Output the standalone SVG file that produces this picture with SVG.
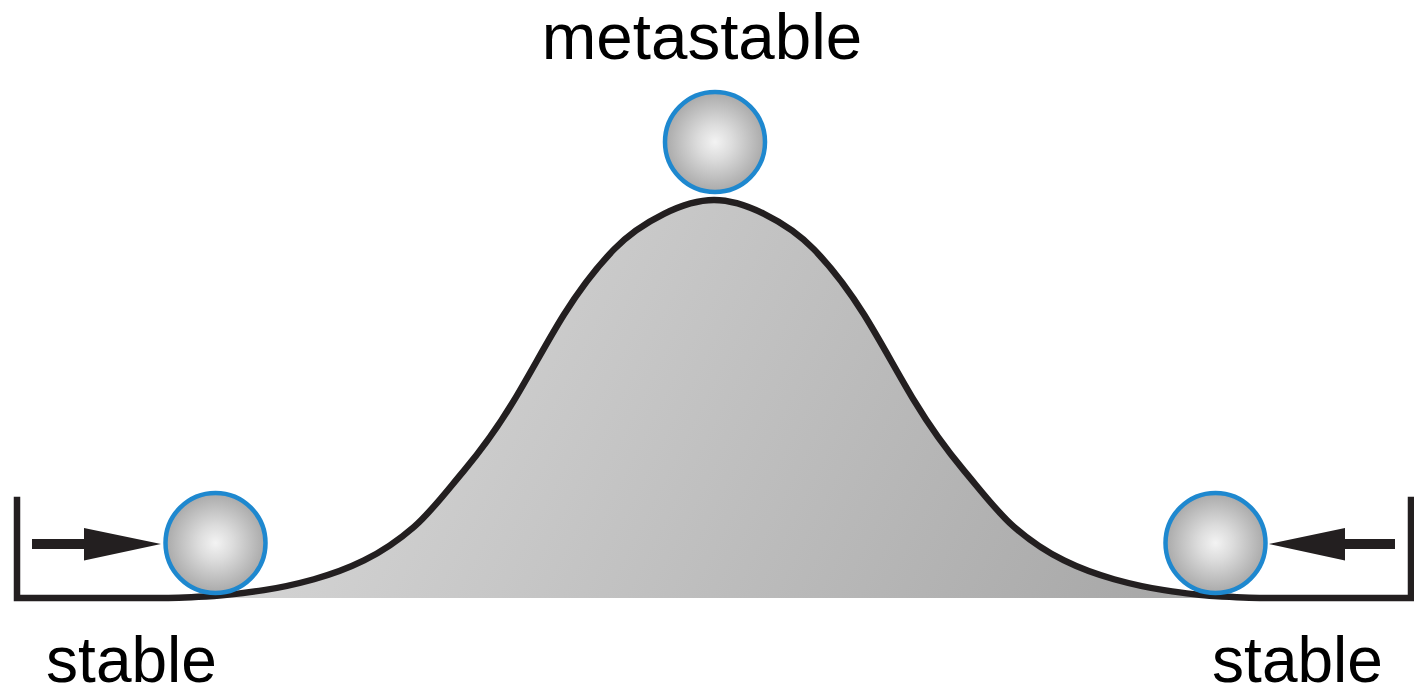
<svg xmlns="http://www.w3.org/2000/svg" width="1414" height="687" viewBox="0 0 1414 687">
<style>
.lbl{font-family:"Liberation Sans",Arial,sans-serif;font-size:65.5px;fill:#000;text-anchor:middle}
.ball{fill:url(#ballGrad);stroke:#1e88cf;stroke-width:4.5}
.ink{fill:none;stroke:#231f20;stroke-width:6.5;stroke-linejoin:miter}
.arrow{fill:#231f20;stroke:none}
</style>
<defs>
<radialGradient id="ballGrad" cx="50%" cy="50%" r="50%">
<stop offset="0" stop-color="#f3f3f3"/>
<stop offset="0.35" stop-color="#dcdcdc"/>
<stop offset="1" stop-color="#a9a9a9"/>
</radialGradient>
<linearGradient id="hillGrad" gradientUnits="userSpaceOnUse" x1="350" y1="250" x2="1150" y2="650">
<stop offset="0" stop-color="#d6d6d6"/>
<stop offset="1" stop-color="#a7a7a7"/>
</linearGradient>
</defs>
<rect width="1414" height="687" fill="#fff"/>
<g id="hill">
<path transform="matrix(1 0 0 0.9876 1 5.44)" fill="url(#hillGrad)" stroke="none" d="M163,600 C179.67,600 196.33,599 213,598 C229.67,597 246.33,594.5 263,592 C279.67,589.5 296.33,585.67 313,581 C329.67,576.33 346.33,570.33 363,562 C379.67,553.67 396.33,542.67 413,528 C429.67,513.33 446.33,491 463,471 C479.67,451 496.33,428 513,400 C529.67,372 546.33,340 563,313 C579.67,286 596.33,264.5 613,247 C629.67,229.5 646.33,219.33 663,211 C679.67,202.67 696.33,197 713,197 C729.67,197 746.33,202.67 763,211 C779.67,219.33 796.33,229.5 813,247 C829.67,264.5 846.33,286 863,313 C879.67,340 896.33,372 913,400 C929.67,428 946.33,451 963,471 C979.67,491 996.33,513.33 1013,528 C1029.67,542.67 1046.33,553.67 1063,562 C1079.67,570.33 1096.33,576.33 1113,581 C1129.67,585.67 1146.33,589.5 1163,592 C1179.67,594.5 1196.33,597 1213,598 C1229.67,599 1246.33,600 1263,600 Z"/>
<path class="ink" transform="matrix(1 0 0 0.9876 1 5.44)" d="M16,497.5 L16,600 L163,600 C179.67,600 196.33,599 213,598 C229.67,597 246.33,594.5 263,592 C279.67,589.5 296.33,585.67 313,581 C329.67,576.33 346.33,570.33 363,562 C379.67,553.67 396.33,542.67 413,528 C429.67,513.33 446.33,491 463,471 C479.67,451 496.33,428 513,400 C529.67,372 546.33,340 563,313 C579.67,286 596.33,264.5 613,247 C629.67,229.5 646.33,219.33 663,211 C679.67,202.67 696.33,197 713,197 C729.67,197 746.33,202.67 763,211 C779.67,219.33 796.33,229.5 813,247 C829.67,264.5 846.33,286 863,313 C879.67,340 896.33,372 913,400 C929.67,428 946.33,451 963,471 C979.67,491 996.33,513.33 1013,528 C1029.67,542.67 1046.33,553.67 1063,562 C1079.67,570.33 1096.33,576.33 1113,581 C1129.67,585.67 1146.33,589.5 1163,592 C1179.67,594.5 1196.33,597 1213,598 C1229.67,599 1246.33,600 1263,600 L1410,600 L1410,497.5"/>
</g>
<g id="ball-top"><circle class="ball" cx="715" cy="142" r="50"/></g>
<g id="ball-left"><circle class="ball" cx="215.5" cy="543" r="50"/></g>
<g id="ball-right"><circle class="ball" cx="1215.5" cy="543" r="50"/></g>
<g id="connectors">
<path class="arrow" d="M32,539 L84,539 L84,528 L161,544 L84,560.5 L84,549 L32,549 Z"/>
<path class="arrow" d="M1395,539 L1345,539 L1345,528 L1269,544 L1345,560.5 L1345,549 L1395,549 Z"/>
</g>
<g id="label-metastable"><text class="lbl" x="702" y="59">metastable</text></g>
<g id="label-stable-left"><text class="lbl" x="131.5" y="681.5" style="font-size:64px">stable</text></g>
<g id="label-stable-right"><text class="lbl" x="1297.5" y="681.5" style="font-size:64px">stable</text></g>
</svg>
